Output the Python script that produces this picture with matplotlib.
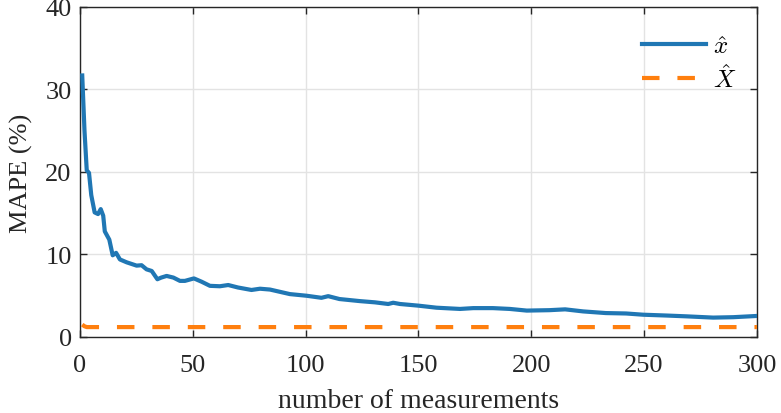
import numpy as np
import matplotlib
matplotlib.use("Agg")
import matplotlib.pyplot as plt

plt.rcParams['font.family'] = ['Liberation Serif', 'DejaVu Serif']
plt.rcParams['mathtext.fontset'] = 'cm'

n_xhat = [1, 2, 3, 4, 5, 6.5, 8, 9.2, 10.3, 11, 13, 14.5, 16, 17.7, 20.7, 22.9, 25.1,
          27.3, 29.5, 31.8, 34.3, 36, 38.4, 41.4, 44.3, 46.5, 50.5, 53.9, 57.6, 62,
          65.7, 70, 76, 79.8, 84.2, 93, 100.4, 107, 110, 115, 124, 130.7, 136.6,
          138.8, 141.8, 149.9, 158, 168.4, 174.3, 183, 190.5, 198, 208, 215, 223,
          233, 242, 249.6, 260, 269, 280.6, 289.5, 300]
mape_xhat = [31.7, 25.0, 20.2, 19.9, 17.2, 15.1, 14.9, 15.5, 14.7, 12.8, 11.8, 9.9,
             10.2, 9.4, 9.05, 8.85, 8.65, 8.7, 8.2, 8.0, 7.0, 7.2, 7.4, 7.2, 6.8,
             6.8, 7.1, 6.7, 6.2, 6.15, 6.3, 6.0, 5.7, 5.85, 5.75, 5.2, 5.0, 4.75,
             4.95, 4.6, 4.35, 4.2, 4.0, 4.15, 4.0, 3.8, 3.55, 3.4, 3.5, 3.5, 3.4,
             3.2, 3.25, 3.35, 3.1, 2.9, 2.85, 2.7, 2.6, 2.5, 2.35, 2.4, 2.55]

# MAPE of X-hat
n_Xhat = [1, 2, 3, 300]
mape_Xhat = [1.5, 1.3, 1.2, 1.2]

fig = plt.figure(figsize=(7.81, 4.14), dpi=100)
ax = fig.add_axes([0.1024, 0.1836, 0.8668, 0.7971])

ax.plot(n_xhat, mape_xhat, color='#2077b4', lw=3, label=r'$\hat{x}$', zorder=3)
ax.plot(n_Xhat, mape_Xhat, color='#ff7f0e', lw=3, dashes=(4.2, 4.3),
        label=r'$\hat{X}$', zorder=3)

ax.set_xlim(0, 300)
ax.set_ylim(0, 40)
ax.set_xticks(np.arange(0, 301, 50))
ax.set_yticks(np.arange(0, 41, 10))
ax.grid(True, color='#e3e3e3', lw=1)
ax.set_axisbelow(True)
ax.tick_params(direction='in', top=True, right=True, length=5, width=1,
               labelsize=19, colors='#262626')
ax.tick_params(axis='x', pad=12)
ax.tick_params(axis='y', pad=6)
for s in ax.spines.values():
    s.set_color('#262626')
    s.set_linewidth(1)

ax.set_xlabel('number of measurements', fontsize=20, color='#262626')
ax.set_ylabel('MAPE (%)', fontsize=19, color='#262626')
ax.xaxis.set_label_coords(0.5, -0.155)
ax.yaxis.set_label_coords(-0.07, 0.5)

leg = ax.legend(loc='upper right', bbox_to_anchor=(0.985, 0.945), frameon=False,
                fontsize=18, handlelength=2.55, handletextpad=0.3,
                borderaxespad=0, labelspacing=0.25)

fig.savefig('out.png', dpi=100)
